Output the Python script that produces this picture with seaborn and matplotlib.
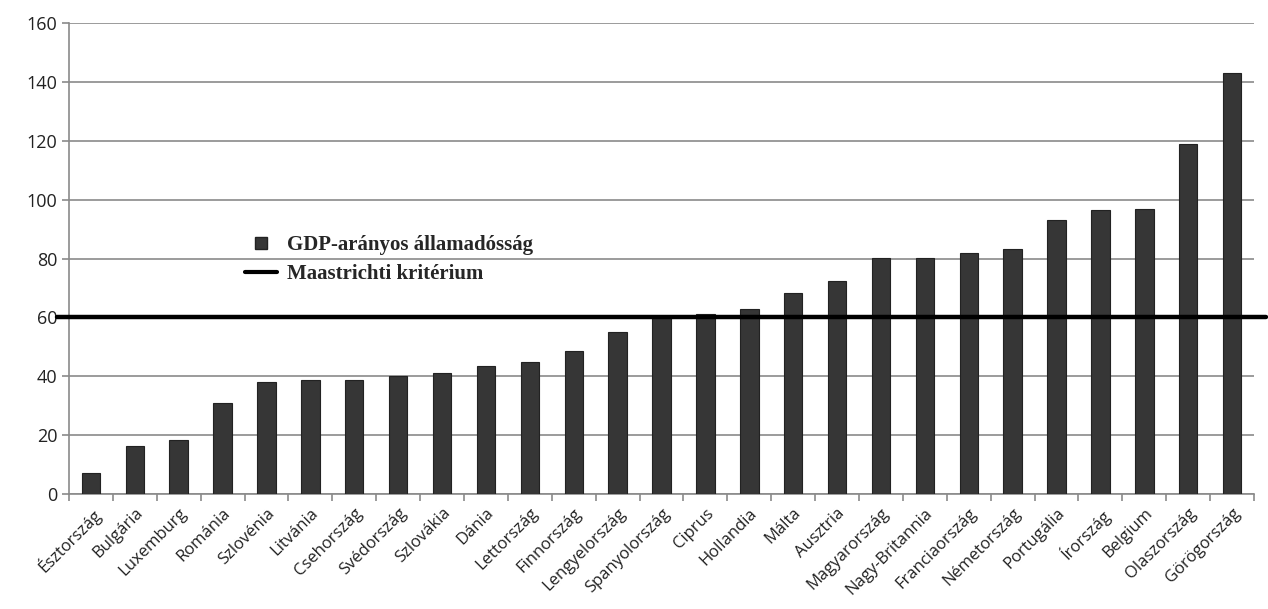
import matplotlib
matplotlib.use("Agg")
import matplotlib.pyplot as plt
import seaborn as sns
import pandas as pd
from matplotlib.lines import Line2D

countries = ['Észtország', 'Bulgária', 'Luxemburg', 'Románia', 'Szlovénia', 'Litvánia',
             'Csehország', 'Svédország', 'Szlovákia', 'Dánia', 'Lettország', 'Finnország',
             'Lengyelország', 'Spanyolország', 'Ciprus', 'Hollandia', 'Málta', 'Ausztria',
             'Magyarország', 'Nagy-Britannia', 'Franciaország', 'Németország', 'Portugália',
             'Írország', 'Belgium', 'Olaszország', 'Görögország']
debt = [7.0, 16.4, 18.3, 30.8, 38.0, 38.6, 38.8, 40.1, 41.0, 43.6, 44.8, 48.6,
        54.9, 60.1, 61.0, 62.8, 68.3, 72.5, 80.3, 80.3, 82.0, 83.2, 93.1,
        96.5, 96.8, 118.9, 142.9]
maastricht = 60
yticks = [0, 20, 40, 60, 80, 100, 120, 140, 160]

df = pd.DataFrame({'orszag': countries, 'adossag': debt})

sns.set_theme(style="white")
plt.rcParams['font.family'] = ['Open Sans', 'DejaVu Sans']

fig = plt.figure(figsize=(12.68, 6.09), dpi=100)
ax = fig.add_axes([0.0544, 0.1888, 0.9346, 0.7734])

sns.barplot(data=df, x='orszag', y='adossag', color='#363636', width=0.42,
            edgecolor='#222222', linewidth=0.8, saturation=1, ax=ax, zorder=3)

ax.set_ylim(0, 160)
ax.set_xlim(-0.5, len(countries) - 0.5)
ax.set_yticks(yticks)
ax.yaxis.grid(True, color='#8a8a8a', linewidth=1.2)
ax.set_axisbelow(True)
for s in ['top', 'right']:
    ax.spines[s].set_visible(False)
for s in ['left', 'bottom']:
    ax.spines[s].set_color('#8a8a8a')
    ax.spines[s].set_linewidth(1.2)

# tick marks between categories on x, short outward marks on y
ax.set_xticks(range(len(countries)))
ax.set_xticklabels(countries, rotation=45, ha='right', rotation_mode='anchor',
                   fontsize=12, color='#222222')
ax.set_xticks([i - 0.5 for i in range(len(countries) + 1)], minor=True)
ax.tick_params(axis='x', which='major', length=0, pad=8)
ax.tick_params(axis='x', which='minor', length=5, color='#8a8a8a', width=1.2,
               bottom=True)
ax.tick_params(axis='y', length=5, color='#8a8a8a', width=1.2, labelsize=13,
               labelcolor='#222222', left=True)
ax.set_xlabel('')
ax.set_ylabel('')

ax.axhline(maastricht, xmin=-0.01, xmax=1.01, color='black', linewidth=3.2,
           clip_on=False, zorder=4)

handles = [Line2D([0], [0], marker='s', linestyle='none', markersize=8,
                  markerfacecolor='#363636', markeredgecolor='#222222'),
           Line2D([0], [0], color='black', linewidth=3)]
leg = ax.legend(handles, ['GDP-arányos államadósság', 'Maastrichti kritérium'],
                loc='upper left', bbox_to_anchor=(0.133, 0.59), frameon=False,
                handlelength=1.5, handletextpad=0.5, labelspacing=0.45,
                prop={'family': 'Liberation Serif', 'weight': 'bold', 'size': 15})

fig.savefig('out.png', dpi=100)
